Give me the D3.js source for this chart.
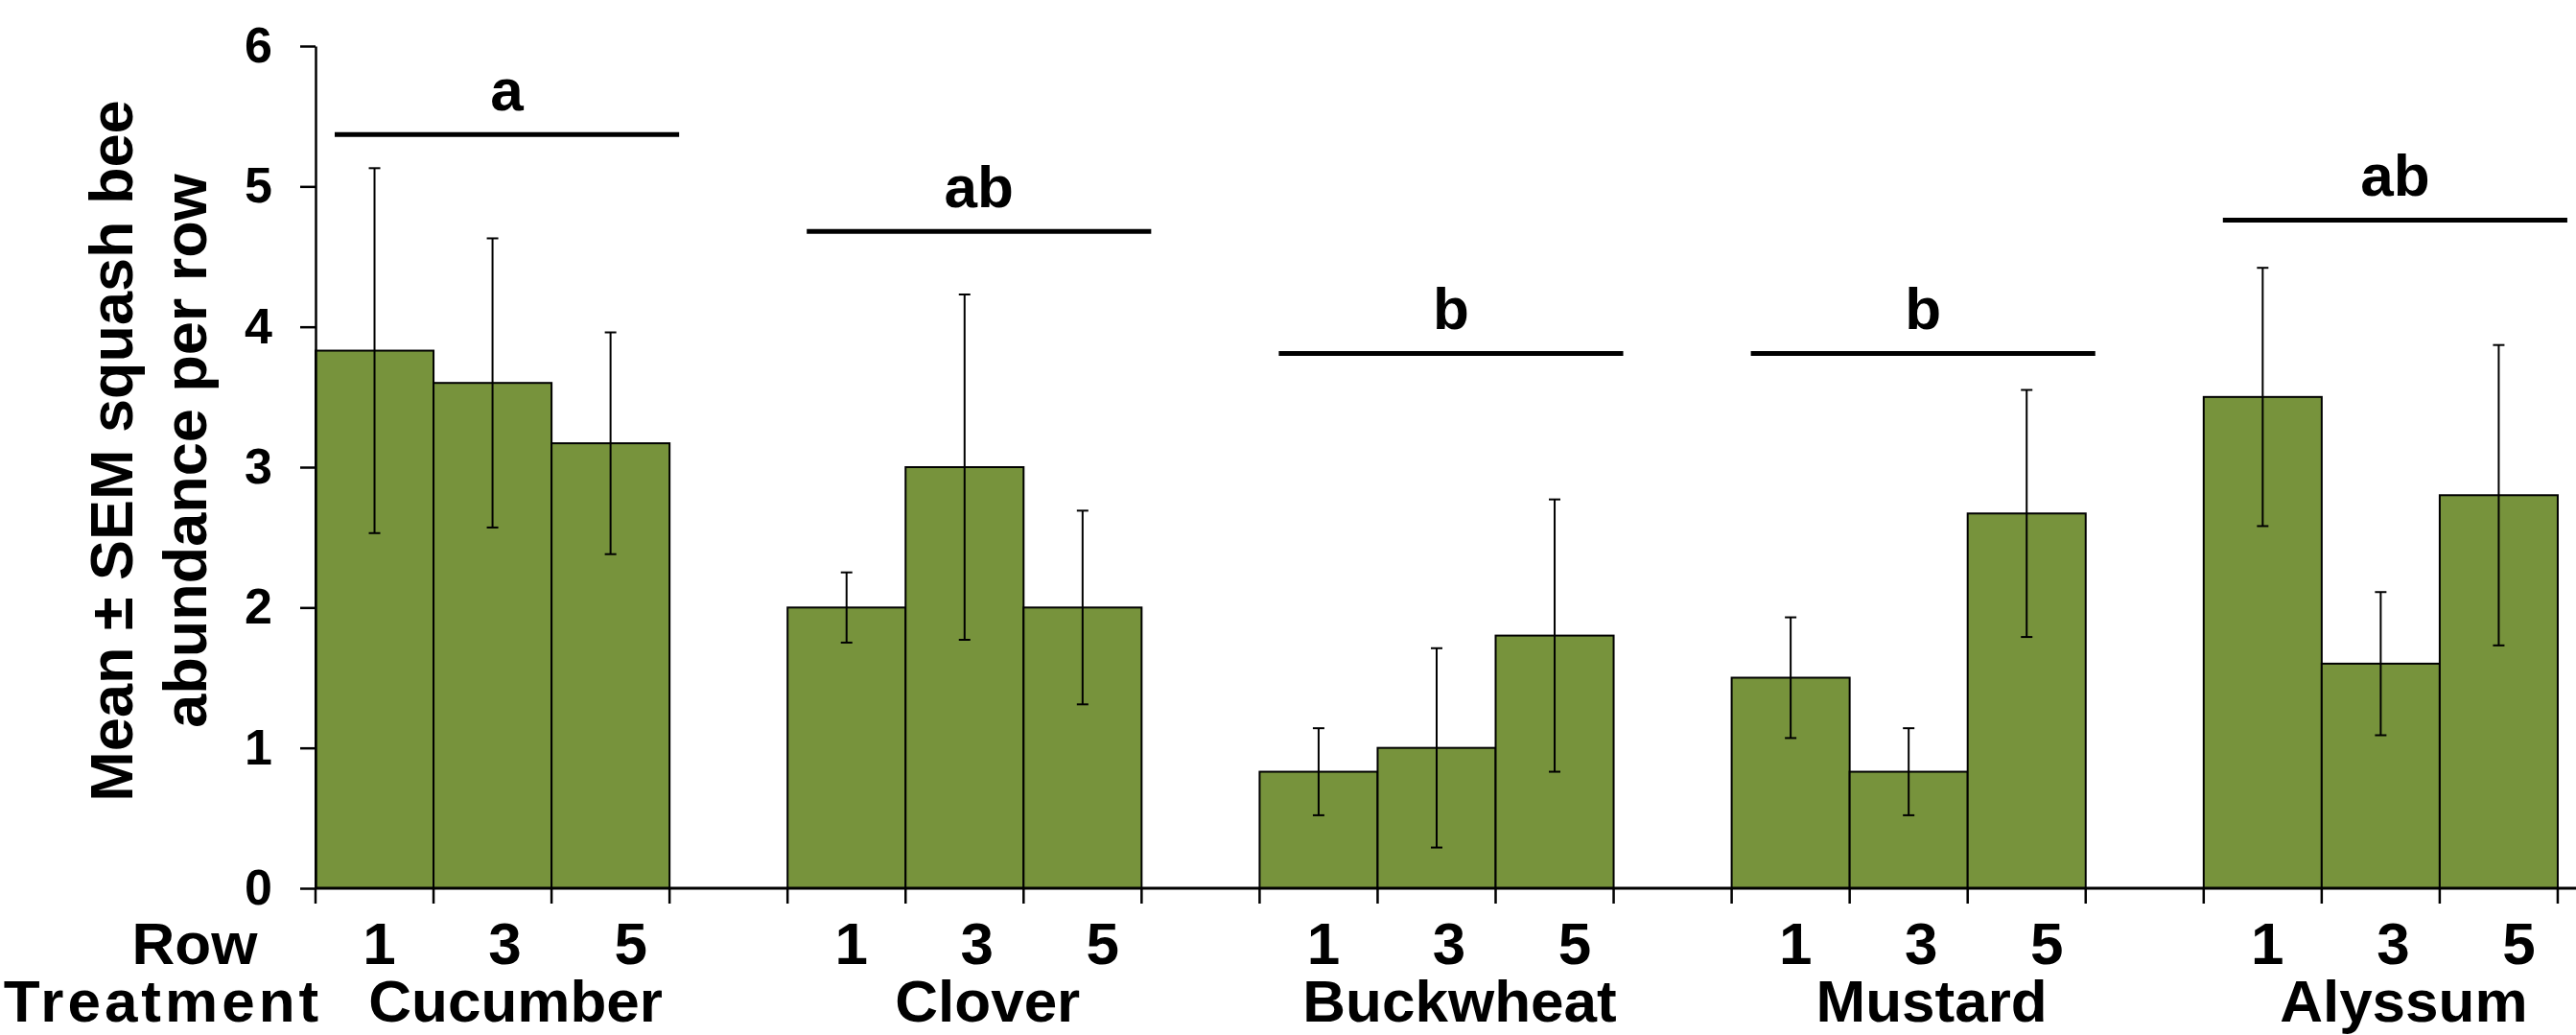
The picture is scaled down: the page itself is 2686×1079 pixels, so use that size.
<!DOCTYPE html>
<html>
<head>
<meta charset="utf-8">
<script src="https://cdn.jsdelivr.net/npm/d3@7"></script>
<style>
  body { margin: 0; background: #fff; }
  text { font-family: Arial, "Liberation Sans", sans-serif; font-weight: bold; fill: #000; }
</style>
</head>
<body>
<div id="chart"></div>
<script>
// data
var treatments = ["Cucumber", "Clover", "Buckwheat", "Mustard", "Alyssum"];
var rowLabels = ["1", "3", "5"];
var meanByTreatment = [
    [3.83, 3.60, 3.17],
    [2.00, 3.00, 2.00],
    [0.83, 1.00, 1.80],
    [1.50, 0.83, 2.67],
    [3.50, 1.60, 2.80]
];
var semByTreatment = [
    [1.30, 1.03, 0.79],
    [0.25, 1.23, 0.69],
    [0.31, 0.71, 0.97],
    [0.43, 0.31, 0.88],
    [0.92, 0.51, 1.07]
];
var sigLetters = ["a", "ab", "b", "b", "ab"];
var sigHeights = [5.37, 4.68, 3.81, 3.81, 4.76];
var yTicks = [0, 1, 2, 3, 4, 5, 6];

var W = 2686, H = 1079;
var plotLeft = 329, plotTop = 48, plotBottom = 926, slotW = 123.05;

// one empty slot after each treatment group
var slots = [];
treatments.forEach(function(t) {
    rowLabels.forEach(function(r) { slots.push(t + "|" + r); });
    slots.push(t + "|gap");
});

var x = d3.scaleBand().domain(slots).range([plotLeft, plotLeft + slots.length * slotW]).padding(0);
var y = d3.scaleLinear().domain([0, 6]).range([plotBottom, plotTop]);

var bars = [];
treatments.forEach(function(t, i) {
    rowLabels.forEach(function(r, j) {
        bars.push({ key: t + "|" + r, row: r, j: j, mean: meanByTreatment[i][j], sem: semByTreatment[i][j] });
    });
});

var svg = d3.select("#chart").append("svg")
    .attr("width", W)
    .attr("height", H);

// bars
svg.selectAll("rect.bar")
    .data(bars)
    .enter().append("rect")
    .attr("class", "bar")
    .attr("x", function(d) { return x(d.key); })
    .attr("y", function(d) { return y(d.mean); })
    .attr("width", x.bandwidth())
    .attr("height", function(d) { return y(0) - y(d.mean); })
    .attr("fill", "#77933c")
    .attr("stroke", "#000")
    .attr("stroke-width", 2);

// error bars
var capW = 12;
var eb = svg.selectAll("g.err").data(bars).enter().append("g").attr("class", "err")
    .attr("stroke", "#000").attr("stroke-width", 2);
eb.append("line")
    .attr("x1", function(d) { return x(d.key) + x.bandwidth() / 2; })
    .attr("x2", function(d) { return x(d.key) + x.bandwidth() / 2; })
    .attr("y1", function(d) { return y(d.mean + d.sem); })
    .attr("y2", function(d) { return y(d.mean - d.sem); });
eb.append("line")
    .attr("x1", function(d) { return x(d.key) + x.bandwidth() / 2 - capW / 2; })
    .attr("x2", function(d) { return x(d.key) + x.bandwidth() / 2 + capW / 2; })
    .attr("y1", function(d) { return y(d.mean + d.sem); })
    .attr("y2", function(d) { return y(d.mean + d.sem); });
eb.append("line")
    .attr("x1", function(d) { return x(d.key) + x.bandwidth() / 2 - capW / 2; })
    .attr("x2", function(d) { return x(d.key) + x.bandwidth() / 2 + capW / 2; })
    .attr("y1", function(d) { return y(d.mean - d.sem); })
    .attr("y2", function(d) { return y(d.mean - d.sem); });

// y axis
var yAxis = d3.axisLeft(y).tickValues(yTicks).tickFormat(d3.format("d"))
    .tickSize(16).tickSizeOuter(0).tickPadding(29);
var gy = svg.append("g").attr("transform", "translate(" + plotLeft + ",0)").call(yAxis);
gy.select(".domain").attr("stroke-width", 2.5);
gy.selectAll(".tick line").attr("stroke-width", 2.5);
gy.selectAll(".tick text").style("font-size", "52px").attr("font-family", null).attr("fill", "#000");

// x axis line + ticks at every slot boundary
svg.append("line")
    .attr("x1", plotLeft).attr("x2", W)
    .attr("y1", y(0)).attr("y2", y(0))
    .attr("stroke", "#000").attr("stroke-width", 3);
var bounds = slots.map(function(s) { return x(s); }).concat([x.range()[1]]);
svg.selectAll("line.xtick")
    .data(bounds)
    .enter().append("line")
    .attr("class", "xtick")
    .attr("x1", function(d) { return d; }).attr("x2", function(d) { return d; })
    .attr("y1", y(0)).attr("y2", y(0) + 16)
    .attr("stroke", "#000").attr("stroke-width", 2.5);

// row labels
svg.selectAll("text.row")
    .data(bars)
    .enter().append("text")
    .attr("class", "row")
    .attr("x", function(d) { return x(d.key) + x.bandwidth() / 2 + 5 + 8 * d.j; })
    .attr("y", 1005)
    .attr("text-anchor", "middle")
    .style("font-size", "62px")
    .text(function(d) { return d.row; });

// treatment labels
svg.selectAll("text.trt")
    .data(treatments)
    .enter().append("text")
    .attr("class", "trt")
    .attr("x", function(d) { return x(d + "|3") + x.bandwidth() / 2 + 24; })
    .attr("y", 1065)
    .attr("text-anchor", "middle")
    .style("font-size", "62px")
    .text(function(d) { return d; });

svg.append("text").attr("x", 203).attr("y", 1005).attr("text-anchor", "middle")
    .style("font-size", "62px").text("Row");
svg.append("text").attr("x", 170).attr("y", 1065).attr("text-anchor", "middle")
    .style("font-size", "62px").style("letter-spacing", "4px").text("Treatment");

// significance lines and letters
treatments.forEach(function(t, i) {
    var x1 = x(t + "|1") + 20, x2 = x(t + "|5") + x.bandwidth() + 10;
    var yy = y(sigHeights[i]);
    svg.append("line")
        .attr("x1", x1).attr("x2", x2)
        .attr("y1", yy).attr("y2", yy)
        .attr("stroke", "#000").attr("stroke-width", 5);
    svg.append("text")
        .attr("x", (x1 + x2) / 2)
        .attr("y", yy - 25)
        .attr("text-anchor", "middle")
        .style("font-size", "62px")
        .text(sigLetters[i]);
});

// y title
var yt = svg.append("text")
    .attr("transform", "translate(138,470) rotate(-90)")
    .attr("text-anchor", "middle")
    .style("font-size", "63px");
yt.append("tspan").attr("x", 0).attr("y", 0).text("Mean ± SEM squash bee");
yt.append("tspan").attr("x", 0).attr("y", 77).text("abundance per row");
</script>
</body>
</html>
